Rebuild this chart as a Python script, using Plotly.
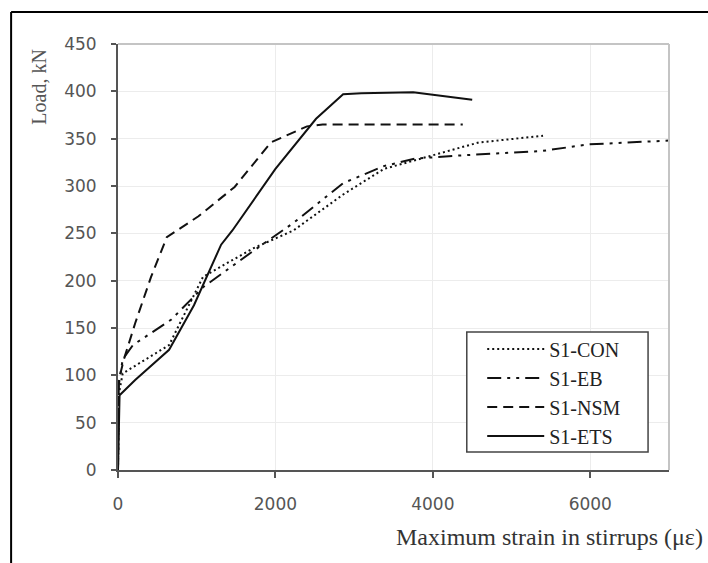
import plotly.graph_objects as go

# ---- data ----
con_x = [0, 10, 60, 218, 649, 1080, 1712, 2229, 2860, 3377, 4009, 4583, 5400]
con_y = [0, 80, 102, 110, 132, 204, 234, 253, 291, 318, 333, 346, 353]

eb_x = [0, 10, 60, 190, 678, 1080, 1712, 2229, 2860, 3377, 3780, 4296, 5387, 5985, 7000]
eb_y = [0, 90, 117, 132, 159, 193, 231, 261, 303, 321, 329, 332, 337, 344, 348]

nsm_x = [0, 10, 75, 218, 420, 620, 1022, 1482, 1942, 2401, 2600, 4380]
nsm_y = [0, 95, 117, 155, 204, 246, 268, 299, 346, 363, 365, 365]

ets_x = [0, 20, 218, 649, 965, 1310, 1453, 2000, 2516, 2860, 3090, 3750, 4500]
ets_y = [0, 79, 95, 127, 174, 238, 253, 318, 371, 397, 398, 399, 391]

names = ["S1-CON", "S1-EB", "S1-NSM", "S1-ETS"]
xticks = [0, 2000, 4000, 6000]
yticks = [0, 50, 100, 150, 200, 250, 300, 350, 400, 450]

dashes = ["2px,3px", "14px,6px,3px,6px,3px,6px", "10px,6px", "solid"]
series = [(con_x, con_y), (eb_x, eb_y), (nsm_x, nsm_y), (ets_x, ets_y)]

fig = go.Figure()
for i, ((xs, ys), nm, d) in enumerate(zip(series, names, dashes)):
    fig.add_trace(go.Scatter(
        x=xs, y=ys, mode="lines", name=nm, legendgroup=nm,
        line=dict(color="#111111", width=2, dash=d),
    ))

tickfont = dict(family="DejaVu Sans", size=17, color="#555555")

fig.update_layout(
    width=708, height=563,
    margin=dict(l=118, r=39, t=44, b=93),
    paper_bgcolor="white", plot_bgcolor="white",
    showlegend=True,
    legend=dict(
        x=0.661, y=0.33, xanchor="left", yanchor="top",
        bgcolor="rgba(0,0,0,0)", borderwidth=0,
        font=dict(family="Liberation Serif", size=20, color="#222222"),
        tracegroupgap=0, itemwidth=57, traceorder="grouped",
    ),
    xaxis=dict(
        range=[0, 7000], tickvals=xticks, ticktext=[str(v) for v in xticks],
        showgrid=True, gridcolor="#ececec", gridwidth=1,
        showline=True, linecolor="#555555", linewidth=2, mirror=False,
        ticks="outside", ticklen=6, tickcolor="#555555", tickwidth=1.5,
        tickfont=tickfont, zeroline=False, ticklabelstandoff=12,
    ),
    yaxis=dict(
        range=[0, 450], tickvals=yticks, ticktext=[str(v) for v in yticks],
        showgrid=True, gridcolor="#ececec", gridwidth=1,
        showline=True, linecolor="#555555", linewidth=2, mirror=False,
        ticks="outside", ticklen=5, tickcolor="#555555", tickwidth=1.5,
        tickfont=tickfont, zeroline=False, ticklabelstandoff=11,
    ),
)

# plot area top/right borders (light gray)
fig.add_shape(type="line", xref="paper", yref="paper", x0=0, x1=1, y0=1, y1=1,
              line=dict(color="#c4c4c4", width=2))
fig.add_shape(type="line", xref="paper", yref="paper", x0=1, x1=1, y0=0, y1=1,
              line=dict(color="#c4c4c4", width=2))

# legend box
fig.add_shape(type="rect", xref="paper", yref="paper", x0=0.633, x1=0.962, y0=0.042, y1=0.324,
              fillcolor="white", line=dict(color="#444444", width=1.5), layer="above")

# outer black frame (top & left)
fig.add_shape(type="line", xref="paper", yref="paper", x0=-0.194, x1=1.08, y0=1.075, y1=1.075,
              line=dict(color="black", width=2))
fig.add_shape(type="line", xref="paper", yref="paper", x0=-0.194, x1=-0.194, y0=1.075, y1=-0.23,
              line=dict(color="black", width=2))

# axis titles
fig.add_annotation(text="Load, kN", xref="paper", yref="paper", x=-0.145, y=0.9,
                   xanchor="center", yanchor="middle",
                   textangle=-90, showarrow=False,
                   font=dict(family="Liberation Serif", size=20, color="#555555"))
fig.add_annotation(text="Maximum strain in stirrups (με)", xref="paper", yref="paper",
                   x=1.065, y=-0.157, xanchor="right", yanchor="middle", showarrow=False,
                   font=dict(family="Liberation Serif", size=24, color="#333333"))

fig.write_html("out.html")
